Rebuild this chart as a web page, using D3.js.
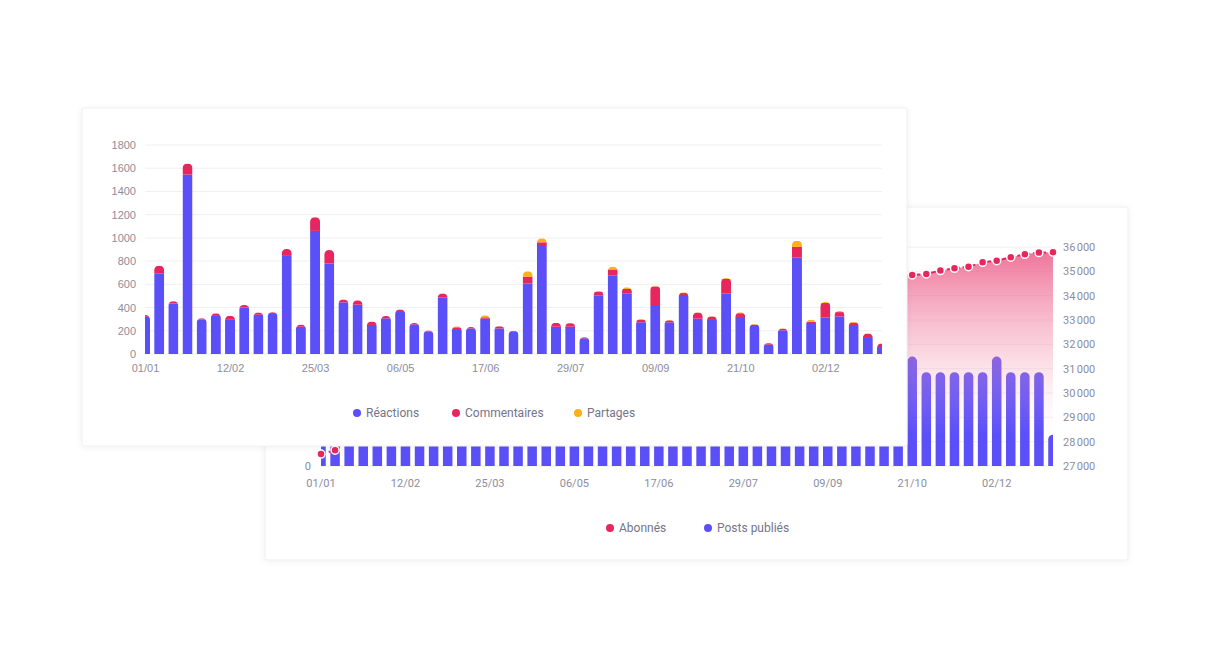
<!DOCTYPE html>
<html>
<head>
<meta charset="utf-8">
<script src="https://cdn.jsdelivr.net/npm/d3@7"></script>
<style>
  html, body { margin: 0; padding: 0; background: #fff; }
  svg { display: block; font-family: Roboto, "Open Sans", sans-serif; }
</style>
</head>
<body>
<svg id="chart" width="1210" height="670"></svg>
<script>
/* Deux cartes superposées : engagement (barres empilées) devant,
   abonnés + posts publiés derrière */

// semaines (année 2024, un point par lundi)
var weeks = [
  '01/01','08/01','15/01','22/01','29/01','05/02','12/02','19/02','26/02',
  '04/03','11/03','18/03','25/03','01/04','08/04','15/04','22/04','29/04',
  '06/05','13/05','20/05','27/05','03/06','10/06','17/06','24/06',
  '01/07','08/07','15/07','22/07','29/07','05/08','12/08','19/08','26/08',
  '02/09','09/09','16/09','23/09','30/09','07/10','14/10','21/10','28/10',
  '04/11','11/11','18/11','25/11','02/12','09/12','16/12','23/12','30/12'
];
var weekTicks = ['01/01','12/02','25/03','06/05','17/06','29/07','09/09','21/10','02/12'];

// carte de devant
var reactions = [
  320, 695, 435, 1545, 298, 335, 300, 400, 338, 345, 845, 235, 1060, 780, 445, 425, 250, 307,
  362, 255, 195, 485, 207, 220, 304, 220, 192, 608, 930, 235, 235, 135, 502, 678, 523, 273,
  422, 273, 508, 304, 301, 520, 319, 241, 80, 204, 830, 267, 313, 324, 250, 146, 60
];
var commentaires = [
  15, 65, 20, 95, 10, 15, 30, 22, 20, 15, 60, 18, 118, 115, 25, 37, 30, 20,
  22, 12, 8, 37, 23, 12, 12, 18, 7, 57, 32, 32, 30, 10, 35, 50, 37, 22,
  158, 17, 17, 52, 22, 127, 32, 12, 13, 14, 92, 11, 126, 37, 20, 28, 28
];
var partages = [
  0, 0, 0, 0, 0, 0, 0, 0, 0, 0, 0, 0, 0, 0, 0, 0, 0, 0,
  0, 0, 0, 0, 8, 0, 17, 3, 2, 47, 34, 3, 2, 0, 6, 24, 14, 6,
  9, 3, 6, 3, 3, 8, 8, 5, 2, 3, 54, 18, 9, 9, 8, 4, 4
];
var engagementTicks = [0, 200, 400, 600, 800, 1000, 1200, 1400, 1600, 1800];

// carte de derrière (les semaines cachées par la carte de devant sont estimées)
var abonnes = [
  27490, 27650, 28200, 28380, 28520, 28700, 28850, 29000, 29180, 29330,
  29480, 29650, 29800, 29960, 30100, 30270, 30420, 30580, 30740, 30900,
  31050, 31220, 31380, 31530, 31700, 31860, 32010, 32180, 32340, 32500,
  32660, 32820, 32980, 33140, 33300, 33460, 33620, 33780, 33940, 34200,
  34500, 34780, 34850, 34890, 35030, 35125, 35190, 35370, 35440, 35580,
  35700, 35770, 35785
];
var posts = [
  5, 5, 5, 5, 5, 5, 5, 5, 5, 5, 5, 5, 5, 5, 5, 5, 5, 5, 5, 5, 5,
  5, 5, 5, 5, 5, 5, 5, 5, 5, 5, 5, 5, 5, 5, 5, 5, 5, 5, 5, 5, 5,
  7, 6, 6, 6, 6, 6, 7, 6, 6, 6, 2
];
var postsTicks = [0, 2, 4, 6, 8, 10, 12, 14];
var abonnesTicks = [27000, 28000, 29000, 30000, 31000, 32000, 33000, 34000, 35000, 36000];

(function () {
  'use strict';

  var BLUE = '#5b4ff8', RED = '#e8265e', ORANGE = '#fdb01a';
  var AXIS_TEXT = '#8d8d9c', LEGEND_TEXT = '#74748a';

  var svg = d3.select('#chart');
  var defs = svg.append('defs');

  var fr = d3.formatLocale({ decimal: ',', thousands: '\u202f', grouping: [3], currency: ['', ' €'] });
  var fmt = fr.format(',d');

  // ombre douce des cartes
  defs.append('filter').attr('id', 'shadow')
    .attr('x', '-5%').attr('y', '-5%').attr('width', '110%').attr('height', '115%')
    .append('feDropShadow')
    .attr('dx', 0).attr('dy', 1).attr('stdDeviation', 3)
    .attr('flood-color', '#000').attr('flood-opacity', 0.06);

  // rectangle à coins supérieurs arrondis
  function roundedTop(x, y, w, h, r) {
    r = Math.max(0, Math.min(r, w / 2, h));
    return 'M' + x + ',' + (y + h) +
      'V' + (y + r) +
      'A' + r + ',' + r + ' 0 0 1 ' + (x + r) + ',' + y +
      'H' + (x + w - r) +
      'A' + r + ',' + r + ' 0 0 1 ' + (x + w) + ',' + (y + r) +
      'V' + (y + h) + 'Z';
  }

  function legend(g, items, y) {
    items.forEach(function (it) {
      g.append('circle').attr('cx', it.x).attr('cy', y).attr('r', 4).attr('fill', it.color);
      g.append('text').attr('x', it.x + 9).attr('y', y).attr('dy', '0.35em')
        .attr('font-size', 12).attr('fill', LEGEND_TEXT).text(it.label);
    });
  }

  /* ---------------- carte de derrière ---------------- */
  var back = svg.append('g');
  back.append('rect')
    .attr('x', 265).attr('y', 207).attr('width', 863).attr('height', 353).attr('rx', 2)
    .attr('fill', '#fff').attr('stroke', '#efeff2').attr('filter', 'url(#shadow)');

  var bx0 = 321, bx1 = 1053, bTop = 247, bBot = 466;
  var xB = d3.scalePoint().domain(weeks).range([bx0, bx1]);
  var yPosts = d3.scaleLinear().domain([0, 14]).range([bBot, bTop]);
  var yAbo = d3.scaleLinear().domain([27000, 36000]).range([bBot, bTop]);
  var bw = 9.5;

  defs.append('clipPath').attr('id', 'clip-back')
    .append('rect').attr('x', bx0).attr('y', 200).attr('width', bx1 - bx0).attr('height', bBot - 200 + 1);

  back.append('g').selectAll('line')
    .data(abonnesTicks)
    .join('line')
    .attr('x1', bx0).attr('x2', bx1)
    .attr('y1', function (d) { return yAbo(d); })
    .attr('y2', function (d) { return yAbo(d); })
    .attr('stroke', '#f0f0f3');

  var bPlot = back.append('g').attr('clip-path', 'url(#clip-back)');

  // Posts publiés
  bPlot.append('g').selectAll('path')
    .data(posts)
    .join('path')
    .attr('fill', BLUE)
    .attr('d', function (d, i) {
      var x = xB(weeks[i]) - bw / 2;
      return roundedTop(x, yPosts(d), bw, bBot - yPosts(d), bw / 2);
    });

  // aire dégradée sous la courbe des abonnés
  var grad = defs.append('linearGradient').attr('id', 'grad-abo')
    .attr('gradientUnits', 'userSpaceOnUse')
    .attr('x1', 0).attr('x2', 0).attr('y1', 250).attr('y2', 435);
  grad.append('stop').attr('offset', 0).attr('stop-color', '#ec5a86').attr('stop-opacity', 0.85);
  grad.append('stop').attr('offset', 0.55).attr('stop-color', '#f28aa8').attr('stop-opacity', 0.35);
  grad.append('stop').attr('offset', 1).attr('stop-color', '#fbd3de').attr('stop-opacity', 0);

  var area = d3.area()
    .x(function (d, i) { return xB(weeks[i]); })
    .y0(bBot)
    .y1(function (d) { return yAbo(d); });
  bPlot.append('path').datum(abonnes).attr('d', area).attr('fill', 'url(#grad-abo)');

  var line = d3.line()
    .x(function (d, i) { return xB(weeks[i]); })
    .y(function (d) { return yAbo(d); });
  back.append('path').datum(abonnes).attr('d', line)
    .attr('fill', 'none').attr('stroke', RED).attr('stroke-width', 2).attr('stroke-dasharray', '5,3');
  back.append('g').selectAll('circle')
    .data(abonnes)
    .join('circle')
    .attr('cx', function (d, i) { return xB(weeks[i]); })
    .attr('cy', function (d) { return yAbo(d); })
    .attr('r', 4)
    .attr('fill', RED).attr('stroke', '#fff').attr('stroke-width', 1.5);

  // axes (seul le 0 de gauche dépasse de la carte de devant)
  back.append('g').selectAll('text')
    .data(abonnesTicks)
    .join('text')
    .attr('x', 1063).attr('y', function (d) { return yAbo(d); }).attr('dy', '0.35em')
    .attr('font-size', 11).attr('fill', AXIS_TEXT)
    .text(function (d) { return fmt(d); });
  back.append('g').selectAll('text')
    .data(postsTicks.filter(function (d) { return yPosts(d) > 452; }))
    .join('text')
    .attr('x', 311).attr('y', function (d) { return yPosts(d); }).attr('dy', '0.35em')
    .attr('text-anchor', 'end').attr('font-size', 11).attr('fill', AXIS_TEXT)
    .text(function (d) { return d; });
  back.append('g').selectAll('text')
    .data(weekTicks)
    .join('text')
    .attr('x', function (d) { return xB(d); }).attr('y', 483).attr('dy', '0.35em')
    .attr('text-anchor', 'middle').attr('font-size', 11).attr('fill', AXIS_TEXT)
    .text(function (d) { return d; });

  legend(back.append('g'), [
    { x: 610, color: RED, label: 'Abonnés' },
    { x: 708, color: BLUE, label: 'Posts publiés' }
  ], 528);

  /* ---------------- carte de devant ---------------- */
  var front = svg.append('g');
  front.append('rect')
    .attr('x', 82).attr('y', 108).attr('width', 825).attr('height', 338).attr('rx', 2)
    .attr('fill', '#fff').attr('stroke', '#efeff2').attr('filter', 'url(#shadow)');

  var fx0 = 145, fx1 = 882, fTop = 145, fBot = 354;
  var xF = d3.scalePoint().domain(weeks).range([fx0, fx1]);
  var yF = d3.scaleLinear().domain([0, 1800]).range([fBot, fTop]);
  var fw = 10;

  defs.append('clipPath').attr('id', 'clip-front')
    .append('rect').attr('x', fx0).attr('y', 120).attr('width', fx1 - fx0).attr('height', fBot - 120 + 1);

  front.append('g').selectAll('line')
    .data(engagementTicks)
    .join('line')
    .attr('x1', fx0).attr('x2', fx1)
    .attr('y1', function (d) { return yF(d); })
    .attr('y2', function (d) { return yF(d); })
    .attr('stroke', '#f0f0f3');

  var rows = weeks.map(function (w, i) {
    return { week: w, reactions: reactions[i], commentaires: commentaires[i], partages: partages[i] };
  });
  var keys = ['reactions', 'commentaires', 'partages'];
  var colors = { reactions: BLUE, commentaires: RED, partages: ORANGE };
  var series = d3.stack().keys(keys)(rows);

  // une découpe arrondie par barre, sur le total empilé
  rows.forEach(function (r, i) {
    var total = r.reactions + r.commentaires + r.partages;
    defs.append('clipPath').attr('id', 'cap-' + i)
      .append('path')
      .attr('d', roundedTop(xF(r.week) - fw / 2, yF(total), fw, fBot - yF(total), 4.5));
  });

  var fPlot = front.append('g').attr('clip-path', 'url(#clip-front)');
  var barG = fPlot.selectAll('g.bar')
    .data(rows)
    .join('g')
    .attr('class', 'bar')
    .attr('clip-path', function (d, i) { return 'url(#cap-' + i + ')'; });

  keys.forEach(function (k, ki) {
    barG.append('rect')
      .attr('x', function (d) { return xF(d.week) - fw / 2; })
      .attr('width', fw)
      .attr('y', function (d, i) { return yF(series[ki][i][1]); })
      .attr('height', function (d, i) { return yF(series[ki][i][0]) - yF(series[ki][i][1]); })
      .attr('fill', colors[k]);
  });

  // axes
  var yAxis = d3.axisLeft(yF).tickValues(engagementTicks).tickFormat(d3.format('d'))
    .tickSize(0).tickPadding(0);
  front.append('g')
    .attr('transform', 'translate(136,0)')
    .call(yAxis)
    .call(function (g) { g.select('.domain').remove(); })
    .call(function (g) {
      g.selectAll('text').attr('font-size', 11).attr('fill', AXIS_TEXT).attr('font-family', null);
    });

  var xAxis = d3.axisBottom(xF).tickValues(weekTicks).tickSize(0).tickPadding(0);
  front.append('g')
    .attr('transform', 'translate(0,364)')
    .call(xAxis)
    .call(function (g) { g.select('.domain').remove(); })
    .call(function (g) {
      g.selectAll('text').attr('font-size', 11).attr('fill', AXIS_TEXT).attr('font-family', null);
    });

  legend(front.append('g'), [
    { x: 357, color: BLUE, label: 'Réactions' },
    { x: 456, color: RED, label: 'Commentaires' },
    { x: 578, color: ORANGE, label: 'Partages' }
  ], 413);

})();
</script>
</body>
</html>
